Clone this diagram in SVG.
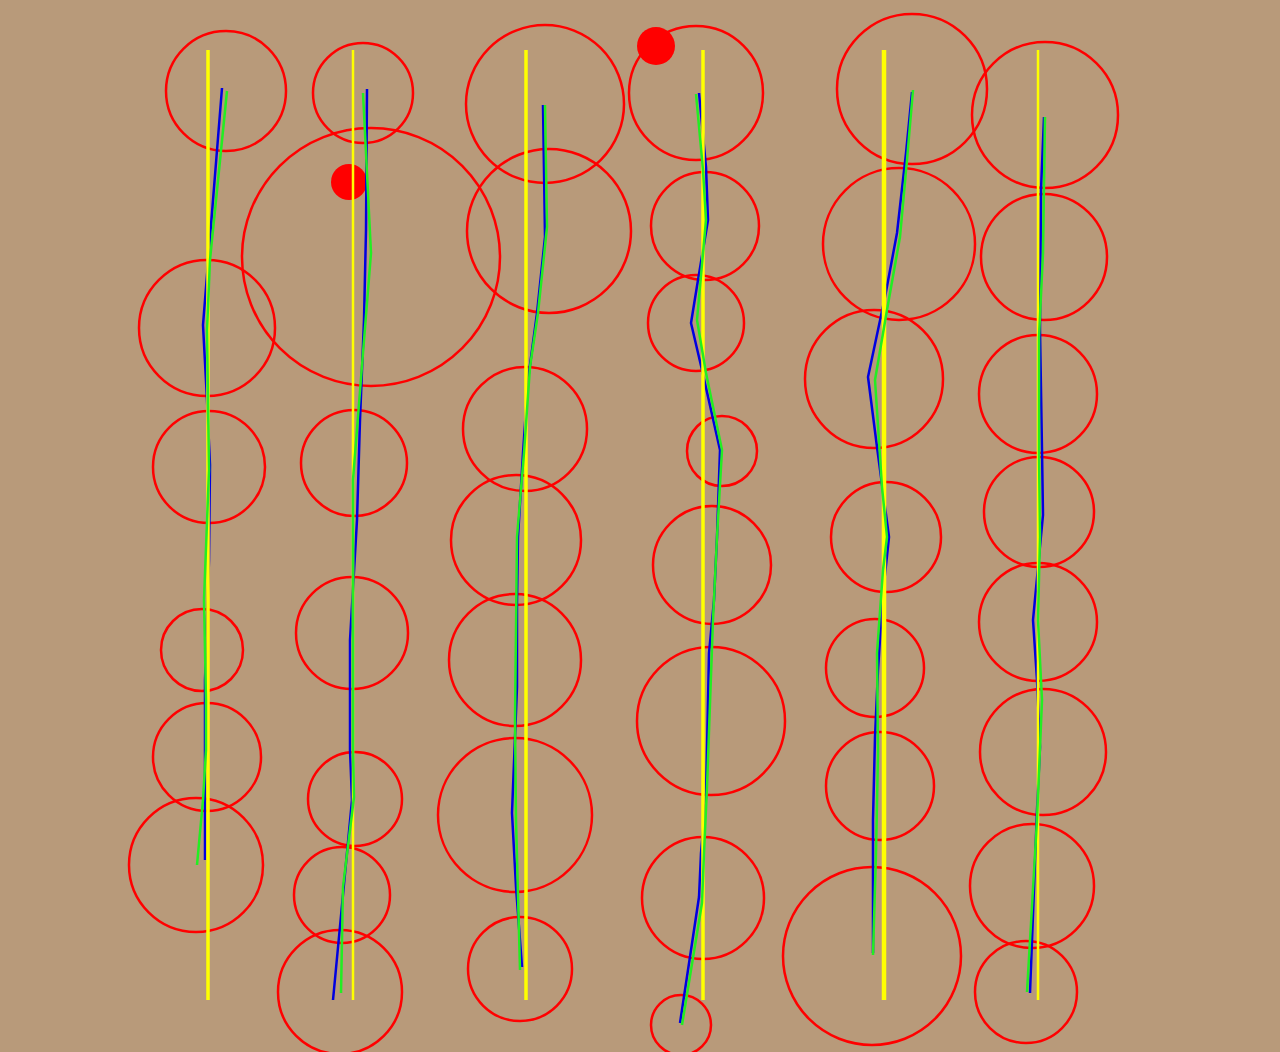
<svg xmlns="http://www.w3.org/2000/svg" width="1280" height="1052" viewBox="0 0 1280 1052">
<style>
.c{fill:none;stroke:#f00;stroke-width:2.5}
.d{fill:#f00;stroke:none}
.y{fill:none;stroke:#ff0;stroke-width:3.5}
.b{fill:none;stroke:#0000e0;stroke-width:2.5;stroke-linejoin:round}
.g{fill:none;stroke:#22ee22;stroke-width:2.5;stroke-linejoin:round}
</style>
<rect width="1280" height="1052" fill="#b89a7a"/>
<g id="circles">
<circle class="c" cx="226" cy="91" r="60"/>
<circle class="c" cx="207" cy="328" r="68"/>
<circle class="c" cx="209" cy="467" r="56"/>
<circle class="c" cx="202" cy="650" r="41"/>
<circle class="c" cx="207" cy="757" r="54"/>
<circle class="c" cx="196" cy="865" r="67"/>
<circle class="c" cx="363" cy="93" r="50"/>
<circle class="c" cx="371" cy="257" r="129"/>
<circle class="c" cx="354" cy="463" r="53"/>
<circle class="c" cx="352" cy="633" r="56"/>
<circle class="c" cx="355" cy="799" r="47"/>
<circle class="c" cx="342" cy="895" r="48"/>
<circle class="c" cx="340" cy="992" r="62"/>
<circle class="c" cx="545" cy="104" r="79"/>
<circle class="c" cx="549" cy="231" r="82"/>
<circle class="c" cx="525" cy="429" r="62"/>
<circle class="c" cx="516" cy="540" r="65"/>
<circle class="c" cx="515" cy="660" r="66"/>
<circle class="c" cx="515" cy="815" r="77"/>
<circle class="c" cx="520" cy="969" r="52"/>
<circle class="c" cx="696" cy="93" r="67"/>
<circle class="c" cx="705" cy="226" r="54"/>
<circle class="c" cx="696" cy="323" r="48"/>
<circle class="c" cx="722" cy="451" r="35"/>
<circle class="c" cx="712" cy="565" r="59"/>
<circle class="c" cx="711" cy="721" r="74"/>
<circle class="c" cx="703" cy="898" r="61"/>
<circle class="c" cx="681" cy="1025" r="30"/>
<circle class="c" cx="912" cy="89" r="75"/>
<circle class="c" cx="899" cy="244" r="76"/>
<circle class="c" cx="874" cy="379" r="69"/>
<circle class="c" cx="886" cy="537" r="55"/>
<circle class="c" cx="875" cy="668" r="49"/>
<circle class="c" cx="880" cy="786" r="54"/>
<circle class="c" cx="872" cy="956" r="89"/>
<circle class="c" cx="1045" cy="115" r="73"/>
<circle class="c" cx="1044" cy="257" r="63"/>
<circle class="c" cx="1038" cy="394" r="59"/>
<circle class="c" cx="1039" cy="512" r="55"/>
<circle class="c" cx="1038" cy="622" r="59"/>
<circle class="c" cx="1043" cy="752" r="63"/>
<circle class="c" cx="1032" cy="886" r="62"/>
<circle class="c" cx="1026" cy="992" r="51"/>
<circle class="d" cx="656" cy="46" r="19"/>
<circle class="d" cx="349" cy="182" r="18"/>
</g>
<g id="blue">
<polyline class="b" points="222,88 203,325 207,400 210,465 209,560 205,680 205,860"/>
<polyline class="b" points="367,89 366,230 364,320 360,420 357,520 350,640 350,750 352,800 333,1000"/>
<polyline class="b" points="543,105 545,237 537,313 528,380 523,453 518,537 517,603 517,687 512,813 516,887 522,967"/>
<polyline class="b" points="699,93 706,167 708,220 698,280 691,323 702,370 720,450 717,537 714,600 709,653 706,797 701,853 699,897 680,1023"/>
<polyline class="b" points="912,92 906,153 897,233 885,297 868,377 877,447 889,537 883,593 878,670 875,737 873,820 873,953"/>
<polyline class="b" points="1044,117 1041,190 1040,330 1042,450 1043,515 1033,620 1037,680 1040,747 1037,810 1030,993"/>
</g>
<g id="yellow">
<line class="y" x1="208" y1="50" x2="208" y2="1000"/>
<line class="y" x1="353" y1="50" x2="353" y2="1000" style="stroke-width:2.5"/>
<line class="y" x1="526" y1="50" x2="526" y2="1000"/>
<line class="y" x1="703" y1="50" x2="703" y2="1000"/>
<line class="y" x1="884" y1="50" x2="884" y2="1000" style="stroke-width:4.5"/>
<line class="y" x1="1038" y1="50" x2="1038" y2="1000" style="stroke-width:2.5"/>
</g>
<g id="green">
<polyline class="g" points="227,91 210,260 207,330 209,470 204,600 206,700 206,750 203,800 197,865"/>
<polyline class="g" points="363,93 371,253 363,353 353,480 353,570 353,750 354,797 343,887 341,993"/>
<polyline class="g" points="545,105 547,227 538,313 530,367 524,453 517,537 515,720 516,820 520,970"/>
<polyline class="g" points="696,94 703,170 706,220 697,320 706,373 722,450 717,537 713,620 707,787 704,853 702,903 682,1025"/>
<polyline class="g" points="913,90 907,160 900,237 887,310 875,380 882,487 887,537 883,570 877,653 878,753 876,853 873,955"/>
<polyline class="g" points="1045,117 1043,253 1039,337 1039,453 1040,537 1038,620 1042,700 1037,820 1027,992"/>
</g>
</svg>
